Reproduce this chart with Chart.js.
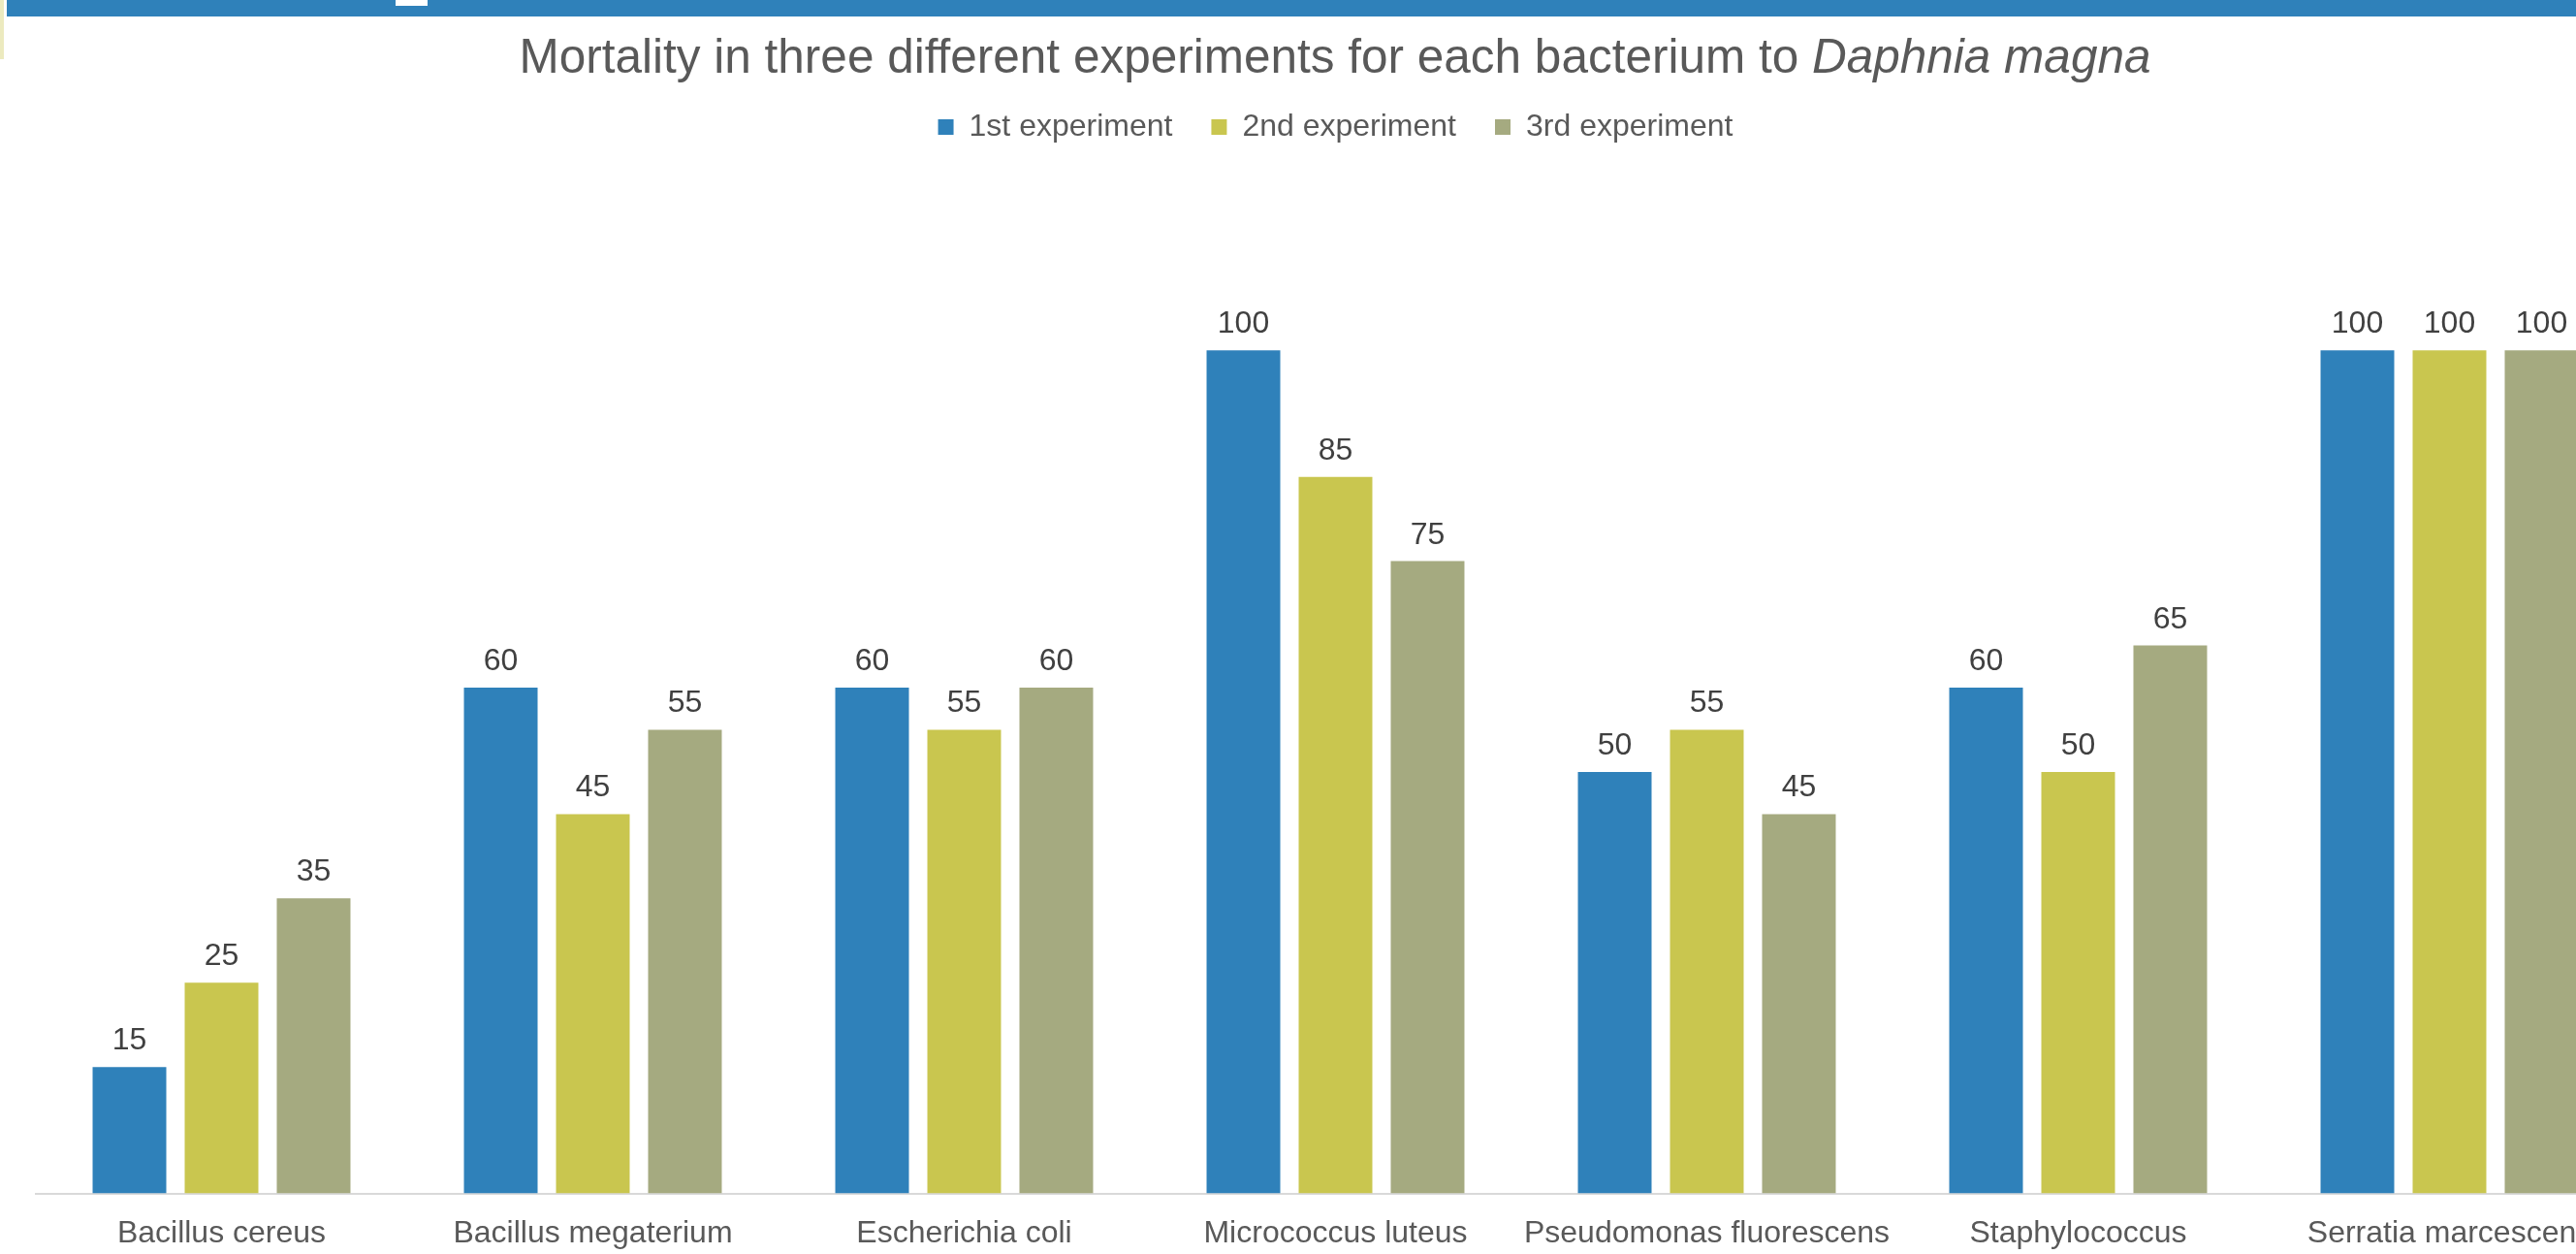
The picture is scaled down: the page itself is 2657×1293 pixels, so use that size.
<!DOCTYPE html>
<html>
<head>
<meta charset="utf-8">
<script src="https://cdn.jsdelivr.net/npm/chart.js@4.4.1/dist/chart.umd.min.js"></script>
<style>
  html, body { margin: 0; padding: 0; background: #fff; overflow: hidden; }
  body { width: 2657px; height: 1293px; position: relative; }
  #wrap { position: absolute; left: 0; top: 0; width: 2754px; height: 1313px; }
  .band { position: absolute; left: 7px; top: 0; width: 2650px; height: 17px; background: #2F81BA; }
  .strip { position: absolute; left: 0; top: 0; width: 4px; height: 61px; background: #ECEABF; }
  .notch { position: absolute; left: 408px; top: 0; width: 33px; height: 6px; background: #fff; }
</style>
</head>
<body>
<div id="wrap"><canvas id="chart"></canvas></div>
<div class="strip"></div>
<div class="band"></div>
<div class="notch"></div>
<script>
const categories = ["Bacillus cereus", "Bacillus megaterium", "Escherichia coli", "Micrococcus luteus",
  "Pseudomonas fluorescens", "Staphylococcus", "Serratia marcescens"];
const seriesNames = ["1st experiment", "2nd experiment", "3rd experiment"];
const exp1 = [15, 60, 60, 100, 50, 60, 100];
const exp2 = [25, 45, 55, 85, 55, 50, 100];
const exp3 = [35, 55, 60, 75, 45, 65, 100];
const colors = ["#2F81BA", "#C9C64F", "#A5AA80"];

const FONT = "'Liberation Sans', Arial, sans-serif";

// title with italic species name, drawn on the canvas
const titlePlugin = {
  id: "mixedTitle",
  afterDraw(chart) {
    const ctx = chart.ctx;
    const plain = "Mortality in three different experiments for each bacterium to ";
    const ital = "Daphnia magna";
    const size = "49.5px ";
    ctx.save();
    ctx.fillStyle = "#595959";
    ctx.textBaseline = "alphabetic";
    ctx.font = size + FONT;
    const w1 = ctx.measureText(plain).width;
    ctx.font = "italic " + size + FONT;
    const w2 = ctx.measureText(ital).width;
    const x0 = chart.width / 2 - (w1 + w2) / 2;
    ctx.font = size + FONT;
    ctx.textAlign = "left";
    ctx.fillText(plain, x0, 75);
    ctx.font = "italic " + size + FONT;
    ctx.fillText(ital, x0 + w1, 75);
    ctx.restore();
  }
};

const valueLabels = {
  id: "valueLabels",
  afterDatasetsDraw(chart) {
    const ctx = chart.ctx;
    ctx.save();
    ctx.font = "32px " + FONT;
    ctx.fillStyle = "#404040";
    ctx.textAlign = "center";
    ctx.textBaseline = "alphabetic";
    chart.data.datasets.forEach((ds, i) => {
      chart.getDatasetMeta(i).data.forEach((bar, j) => {
        ctx.fillText(String(ds.data[j]), bar.x, bar.y - 18);
      });
    });
    ctx.restore();
  }
};

new Chart(document.getElementById("chart"), {
  type: "bar",
  data: {
    labels: categories,
    datasets: [
      { label: seriesNames[0], data: exp1, backgroundColor: colors[0] },
      { label: seriesNames[1], data: exp2, backgroundColor: colors[1] },
      { label: seriesNames[2], data: exp3, backgroundColor: colors[2] }
    ]
  },
  options: {
    responsive: true,
    maintainAspectRatio: false,
    animation: false,
    events: [],
    datasets: { bar: { categoryPercentage: 0.744, barPercentage: 0.8 } },
    layout: { padding: { top: 75, left: 37, right: 36, bottom: 0 } },
    plugins: {
      title: { display: false },
      tooltip: { enabled: false },
      legend: {
        position: "top",
        labels: {
          font: { family: FONT, size: 32 },
          color: "#595959",
          boxWidth: 16,
          boxHeight: 16,
          padding: 40
        }
      }
    },
    scales: {
      x: {
        grid: { display: false, drawTicks: false },
        border: { display: true, color: "#D9D9D9", width: 2 },
        ticks: { font: { family: FONT, size: 32 }, color: "#595959", padding: 22, maxRotation: 0, autoSkip: false }
      },
      y: {
        display: false,
        min: 0,
        max: 123.5
      }
    }
  },
  plugins: [titlePlugin, valueLabels]
});
</script>
</body>
</html>
